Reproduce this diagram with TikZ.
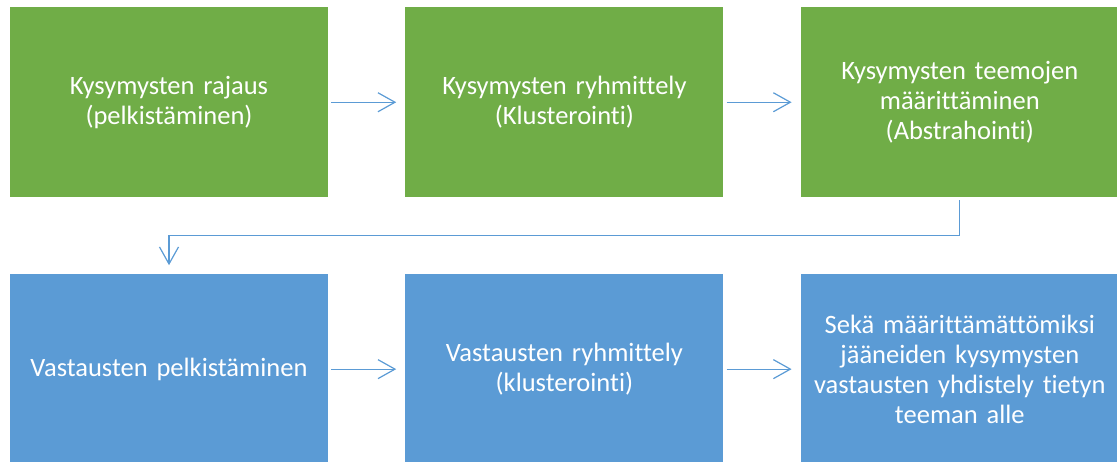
\documentclass[tikz,border=0pt]{standalone}
\usepackage{fontspec}
\setmainfont{Carlito}[Ligatures=NoCommon]
\usepackage{xcolor}
\usetikzlibrary{positioning,arrows.meta}

\definecolor{boxgreen}{HTML}{70AD47}
\definecolor{boxblue}{HTML}{5B9BD5}

\tikzset{
    phase/.style={minimum width=318pt, minimum height=189.5pt, inner sep=0pt,
        text width=312pt, align=center, text=white, font=\fontsize{26.5}{30}\selectfont},
    greenbox/.style={phase, fill=boxgreen},
    bluebox/.style={phase, fill=boxblue},
    flow/.style={draw=boxblue, line width=1.2pt, shorten <=3pt, shorten >=9pt,
        -{Straight Barb[length=17pt,width=19pt,line width=1.2pt]}}
}

\begin{document}
\begin{tikzpicture}[x=1pt,y=1pt]
    \useasboundingbox (0,0) rectangle (1117,461);

    % Questions row
    \node[greenbox] (rajaus) at (169,358.75) {Kysymysten rajaus\\(pelkistäminen)};
    \node[greenbox, right=77pt of rajaus] (ryhmittely) {Kysymysten ryhmittely\\(Klusterointi)};
    \node[greenbox, right=77pt of ryhmittely] (teemat) {Kysymysten teemojen\\määrittäminen\\(Abstrahointi)};

    % Answers row
    \node[bluebox, below=77pt of rajaus] (vpelk) {Vastausten pelkistäminen};
    \node[bluebox, right=77pt of vpelk] (vryhm) {Vastausten ryhmittely\\(klusterointi)};
    \node[bluebox, right=77pt of vryhm] (yhdistely) {Sekä määrittämättömiksi\\jääneiden kysymysten\\vastausten yhdistely tietyn\\teeman alle};

    % Arrows
    \draw[flow] (rajaus) -- (ryhmittely);
    \draw[flow] (ryhmittely) -- (teemat);
    \draw[flow] (teemat.south) -- ++(0,-38.5) -| (vpelk.north);
    \draw[flow] (vpelk) -- (vryhm);
    \draw[flow] (vryhm) -- (yhdistely);
\end{tikzpicture}
\end{document}
